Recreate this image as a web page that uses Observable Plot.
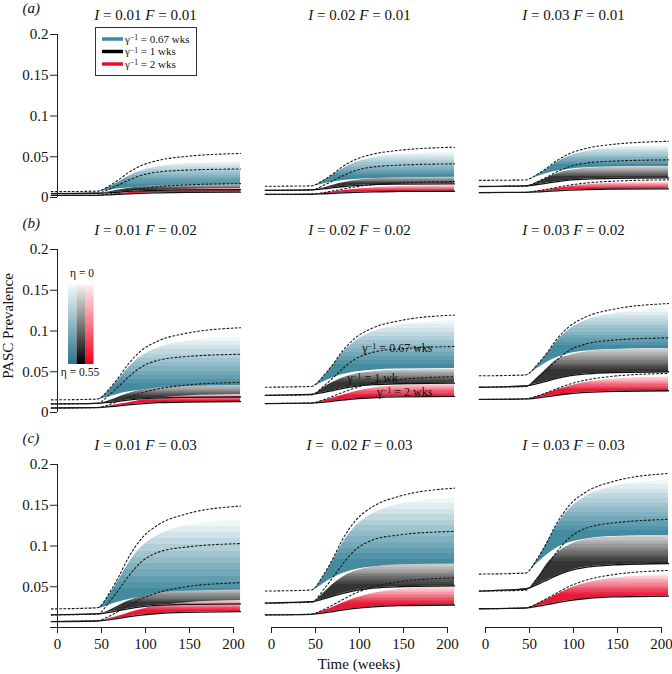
<!DOCTYPE html>
<html><head><meta charset="utf-8">
<script src="https://cdn.jsdelivr.net/npm/d3@7"></script>
<script src="https://cdn.jsdelivr.net/npm/@observablehq/plot@0.6"></script>
<style>
body{margin:0;background:#fff;}
#chart{width:672px;height:674px;}
svg{overflow:visible;}
</style></head><body><div id="chart"></div>
<script>
// ---------- data ----------
const time = [-7, 45, 60, 70, 80, 95, 115, 145, 208];
const panelTitles = ["I = 0.01 F = 0.01", "I = 0.02 F = 0.01", "I = 0.03 F = 0.01",
                     "I = 0.01 F = 0.02", "I = 0.02 F = 0.02", "I = 0.03 F = 0.02",
                     "I = 0.01 F = 0.03", "I =  0.02 F = 0.03", "I = 0.03 F = 0.03"];
const rowLetters = ["(a)", "(b)", "(c)"];
const xTicks = [0, 50, 100, 150, 200];
const yTicks = [0, 0.05, 0.1, 0.15, 0.2];
const yTickLabels = ["0", "0.05", "0.1", "0.15", "0.2"];
const legendLabels = ["γ⁻¹ = 0.67 wks", "γ⁻¹ = 1 wks", "γ⁻¹ = 2 wks"];
const annotLabels = ["γ⁻¹ = 0.67 wks", "γ⁻¹ = 1 wk", "γ⁻¹ = 2 wks"];
const etaLabels = ["η = 0", "η = 0.55"];

// one row per panel (a-left ... c-right), one value per time point
const blueDash = [
  [0.0072, 0.0077, 0.0152, 0.0222, 0.0301, 0.0390, 0.0456, 0.0503, 0.054],
  [0.0138, 0.0143, 0.0219, 0.0291, 0.0373, 0.0464, 0.0531, 0.0579, 0.0617],
  [0.021, 0.0215, 0.0292, 0.0364, 0.0445, 0.0536, 0.0604, 0.0652, 0.069],
  [0.0155, 0.0164, 0.0305, 0.0438, 0.0589, 0.0757, 0.0881, 0.0969, 0.104],
  [0.031, 0.0319, 0.0461, 0.0594, 0.0744, 0.0912, 0.1037, 0.1125, 0.1196],
  [0.045, 0.0459, 0.0601, 0.0734, 0.0885, 0.1053, 0.1177, 0.1266, 0.1337],
  [0.0228, 0.0241, 0.0443, 0.0632, 0.0846, 0.1086, 0.1263, 0.1389, 0.149],
  [0.0447, 0.0460, 0.0662, 0.0851, 0.1066, 0.1306, 0.1483, 0.1609, 0.171],
  [0.0655, 0.0667, 0.0865, 0.1050, 0.1260, 0.1495, 0.1668, 0.1791, 0.189]
];
const blueTop = [
  [0.0072, 0.0076, 0.0135, 0.0193, 0.0256, 0.0326, 0.0377, 0.0414, 0.044],
  [0.0138, 0.0142, 0.0209, 0.0276, 0.0347, 0.0426, 0.0485, 0.0527, 0.0556],
  [0.021, 0.0214, 0.0283, 0.0351, 0.0424, 0.0505, 0.0565, 0.0608, 0.0638],
  [0.0155, 0.0163, 0.0286, 0.0409, 0.0540, 0.0686, 0.0794, 0.0871, 0.0925],
  [0.031, 0.0318, 0.0449, 0.0580, 0.0719, 0.0874, 0.0988, 0.1070, 0.1127],
  [0.045, 0.0458, 0.0589, 0.0721, 0.0860, 0.1016, 0.1131, 0.1213, 0.127],
  [0.0228, 0.0239, 0.0414, 0.0588, 0.0774, 0.0981, 0.1134, 0.1244, 0.132],
  [0.0447, 0.0458, 0.0641, 0.0824, 0.1019, 0.1236, 0.1396, 0.1510, 0.159],
  [0.0655, 0.0667, 0.0851, 0.1036, 0.1233, 0.1452, 0.1614, 0.1729, 0.181]
];
const blueBot = [
  [0.0072, 0.0074, 0.0092, 0.0106, 0.0117, 0.0127, 0.0134, 0.0138, 0.014],
  [0.0138, 0.0141, 0.0169, 0.0189, 0.0205, 0.0221, 0.0231, 0.0237, 0.024],
  [0.021, 0.0215, 0.0261, 0.0295, 0.0322, 0.0348, 0.0365, 0.0375, 0.038],
  [0.0155, 0.0159, 0.0199, 0.0228, 0.0251, 0.0272, 0.0287, 0.0296, 0.030],
  [0.031, 0.0317, 0.0379, 0.0425, 0.0462, 0.0496, 0.0519, 0.0533, 0.054],
  [0.045, 0.0460, 0.0550, 0.0617, 0.0670, 0.0721, 0.0754, 0.0774, 0.0784],
  [0.0228, 0.0233, 0.0280, 0.0314, 0.0342, 0.0367, 0.0385, 0.0395, 0.040],
  [0.0447, 0.0457, 0.0544, 0.0609, 0.0660, 0.0709, 0.0741, 0.0760, 0.077],
  [0.0655, 0.0669, 0.0798, 0.0893, 0.0969, 0.1040, 0.1087, 0.1116, 0.113]
];
const blackDash = [
  [0.0048, 0.0051, 0.0108, 0.0157, 0.0208, 0.0271, 0.0314, 0.0335, 0.035],
  [0.0088, 0.0091, 0.0153, 0.0205, 0.0260, 0.0329, 0.0374, 0.0397, 0.0413],
  [0.0135, 0.0138, 0.0200, 0.0253, 0.0308, 0.0377, 0.0423, 0.0446, 0.0462],
  [0.0105, 0.0111, 0.0227, 0.0325, 0.0428, 0.0556, 0.0642, 0.0685, 0.0715],
  [0.021, 0.0216, 0.0330, 0.0426, 0.0528, 0.0654, 0.0738, 0.0780, 0.081],
  [0.031, 0.0316, 0.0431, 0.0529, 0.0632, 0.0759, 0.0844, 0.0887, 0.0917],
  [0.0155, 0.0164, 0.0330, 0.0470, 0.0619, 0.0803, 0.0925, 0.0986, 0.103],
  [0.030, 0.0309, 0.0476, 0.0617, 0.0766, 0.0951, 0.1074, 0.1136, 0.118],
  [0.0447, 0.0456, 0.0623, 0.0763, 0.0913, 0.1097, 0.1221, 0.1282, 0.1326]
];
const blackTop = [
  [0.0048, 0.0049, 0.0070, 0.0091, 0.0110, 0.0131, 0.0147, 0.0154, 0.016],
  [0.0088, 0.0090, 0.0120, 0.0150, 0.0177, 0.0208, 0.0231, 0.0242, 0.025],
  [0.0135, 0.0137, 0.0190, 0.0240, 0.0285, 0.0330, 0.0360, 0.0372, 0.038],
  [0.0105, 0.0107, 0.0150, 0.0191, 0.0229, 0.0272, 0.0303, 0.0319, 0.033],
  [0.021, 0.0213, 0.0310, 0.0370, 0.0420, 0.0470, 0.0500, 0.0520, 0.053],
  [0.031, 0.0315, 0.0440, 0.0540, 0.0640, 0.0700, 0.0745, 0.0770, 0.0784],
  [0.0155, 0.0158, 0.0216, 0.0271, 0.0323, 0.0381, 0.0423, 0.0445, 0.046],
  [0.030, 0.0305, 0.0430, 0.0530, 0.0610, 0.0690, 0.0740, 0.0770, 0.078],
  [0.0447, 0.0454, 0.0620, 0.0780, 0.0900, 0.1010, 0.1080, 0.1110, 0.113]
];
const blackBot = [
  [0.0048, 0.0052, 0.0060, 0.0067, 0.0074, 0.0082, 0.0089, 0.0093, 0.0095],
  [0.0088, 0.0094, 0.0108, 0.0120, 0.0132, 0.0146, 0.0158, 0.0164, 0.0168],
  [0.0135, 0.0143, 0.0161, 0.0177, 0.0193, 0.0212, 0.0226, 0.0235, 0.024],
  [0.0105, 0.0112, 0.0126, 0.0139, 0.0152, 0.0167, 0.0179, 0.0186, 0.019],
  [0.021, 0.0222, 0.0248, 0.0270, 0.0293, 0.0320, 0.0341, 0.0353, 0.036],
  [0.031, 0.0325, 0.0358, 0.0386, 0.0415, 0.0449, 0.0475, 0.0491, 0.050],
  [0.0155, 0.0166, 0.0189, 0.0209, 0.0229, 0.0254, 0.0272, 0.0283, 0.029],
  [0.030, 0.0317, 0.0353, 0.0384, 0.0416, 0.0453, 0.0483, 0.0500, 0.051],
  [0.0447, 0.0474, 0.0532, 0.0582, 0.0633, 0.0694, 0.0741, 0.0768, 0.0785]
];
const redDash = [
  [0.0025, 0.0028, 0.0047, 0.0064, 0.0083, 0.0109, 0.0134, 0.0154, 0.017],
  [0.0038, 0.0041, 0.0062, 0.0081, 0.0101, 0.0130, 0.0157, 0.0179, 0.0196],
  [0.006, 0.0063, 0.0084, 0.0102, 0.0123, 0.0151, 0.0178, 0.0200, 0.0217],
  [0.0055, 0.0061, 0.0102, 0.0140, 0.0181, 0.0238, 0.0291, 0.0335, 0.037],
  [0.011, 0.0117, 0.0160, 0.0199, 0.0242, 0.0301, 0.0358, 0.0404, 0.044],
  [0.016, 0.0166, 0.0208, 0.0246, 0.0288, 0.0346, 0.0400, 0.0445, 0.048],
  [0.0073, 0.0083, 0.0145, 0.0202, 0.0264, 0.0350, 0.0431, 0.0498, 0.055],
  [0.0155, 0.0164, 0.0223, 0.0278, 0.0337, 0.0419, 0.0496, 0.0560, 0.061],
  [0.023, 0.0239, 0.0301, 0.0357, 0.0418, 0.0503, 0.0583, 0.0648, 0.070]
];
const redTop = [
  [0.0025, 0.0027, 0.0038, 0.0048, 0.0059, 0.0074, 0.0089, 0.0101, 0.011],
  [0.0038, 0.0040, 0.0054, 0.0067, 0.0082, 0.0101, 0.0120, 0.0135, 0.0147],
  [0.006, 0.0063, 0.0079, 0.0095, 0.0111, 0.0134, 0.0156, 0.0174, 0.0188],
  [0.0055, 0.0058, 0.0080, 0.0100, 0.0121, 0.0151, 0.0179, 0.0202, 0.022],
  [0.011, 0.0115, 0.0148, 0.0178, 0.0210, 0.0255, 0.0298, 0.0333, 0.036],
  [0.016, 0.0166, 0.0202, 0.0236, 0.0272, 0.0322, 0.0370, 0.0409, 0.044],
  [0.0073, 0.0078, 0.0112, 0.0142, 0.0176, 0.0222, 0.0266, 0.0302, 0.033],
  [0.0155, 0.0162, 0.0208, 0.0250, 0.0295, 0.0358, 0.0418, 0.0467, 0.0505],
  [0.023, 0.0238, 0.0293, 0.0343, 0.0398, 0.0474, 0.0545, 0.0604, 0.065]
];
const redBot = [
  [0.0025, 0.0027, 0.0033, 0.0038, 0.0044, 0.0051, 0.0057, 0.0062, 0.0065],
  [0.0038, 0.0040, 0.0046, 0.0051, 0.0056, 0.0063, 0.0070, 0.0074, 0.0077],
  [0.006, 0.0063, 0.0069, 0.0076, 0.0082, 0.0091, 0.0098, 0.0104, 0.0107],
  [0.0055, 0.0060, 0.0071, 0.0081, 0.0093, 0.0107, 0.0120, 0.0129, 0.0135],
  [0.011, 0.0115, 0.0128, 0.0139, 0.0151, 0.0167, 0.0181, 0.0192, 0.0198],
  [0.016, 0.0166, 0.0181, 0.0195, 0.0210, 0.0230, 0.0247, 0.0260, 0.0267],
  [0.0073, 0.0080, 0.0097, 0.0113, 0.0130, 0.0152, 0.0172, 0.0186, 0.0195],
  [0.0155, 0.0162, 0.0179, 0.0195, 0.0212, 0.0234, 0.0253, 0.0268, 0.0276],
  [0.023, 0.0239, 0.0261, 0.0281, 0.0303, 0.0331, 0.0356, 0.0375, 0.0386]
];

// ---------- build table ----------
const table = [];
for (let p = 0; p < 9; p++) {
  time.forEach((t, i) => table.push({
    p, col: p % 3, row: Math.floor(p / 3), t,
    d1: blueDash[p][i], bt: blueTop[p][i], bb: blueBot[p][i],
    d2: blackDash[p][i], kt: blackTop[p][i], kb: blackBot[p][i],
    d3: redDash[p][i], rt: redTop[p][i], rb: redBot[p][i]
  }));
}
const titleRows = panelTitles.map((s, p) => ({col: p % 3, row: Math.floor(p / 3), title: s}));
const letterRows = rowLetters.map((s, r) => ({col: 0, row: r, letter: s}));
const yAxisRows = [0, 1, 2].map(r => ({col: 0, row: r}));
const xAxisRows = [0, 1, 2].map(c => ({col: c, row: 2}));
const zeroRows = [0, 1].map(r => ({col: 0, row: r, label: yTickLabels[0]}));
const annotRows = [
  {col: 1, row: 1, t: 103, v: 0.0795, label: annotLabels[0]},
  {col: 1, row: 1, t: 86, v: 0.0425, label: annotLabels[1]},
  {col: 1, row: 1, t: 120, v: 0.0245, label: annotLabels[2]}
];
const yLabelMap = new Map(yTicks.map((v, i) => [v, yTickLabels[i]]));

const FONT = "'Liberation Serif', 'Times New Roman', serif";
const areaMarks = [];
for (let p = 0; p < 9; p++) {
  const rows = table.filter(d => d.p === p);
  const common = {x1: "t", fx: "col", fy: "row", curve: "monotone-x"};
  areaMarks.push(Plot.area(rows, {...common, y1: "bb", y2: "bt", fill: `url(#gb${p})`}));
  areaMarks.push(Plot.area(rows, {...common, y1: "kb", y2: "kt", fill: `url(#gk${p})`, fillOpacity: 0.9}));
  areaMarks.push(Plot.area(rows, {...common, y1: "rb", y2: "rt", fill: `url(#gr${p})`, fillOpacity: 0.9}));
}
const lineBase = {x: "t", z: "p", fx: "col", fy: "row", curve: "monotone-x"};
const dash = {stroke: "#1a1a1a", strokeWidth: 1.1, strokeDasharray: "1.8,2.4"};

const svg = Plot.plot({
  width: 672, height: 674,
  marginLeft: 57, marginRight: 11, marginTop: 34, marginBottom: 47,
  style: {fontFamily: FONT, fontSize: "15px", background: "white", color: "#111"},
  fx: {domain: [0, 1, 2], paddingInner: 0.1776, paddingOuter: 0, axis: null, label: null},
  fy: {domain: [0, 1, 2], paddingInner: 0.2419, paddingOuter: 0, axis: null, label: null},
  x: {domain: [0, 200]},
  y: {domain: [0, 0.2]},
  marks: [
    ...areaMarks,
    Plot.line(table, {...lineBase, y: "kb", stroke: "#111", strokeWidth: 1.3}),
    Plot.line(table, {...lineBase, y: "rb", stroke: "#111", strokeWidth: 1.3}),
    Plot.line(table, {...lineBase, y: "d1", ...dash}),
    Plot.line(table, {...lineBase, y: "d2", ...dash}),
    Plot.line(table, {...lineBase, y: "d3", ...dash}),
    Plot.ruleX(yAxisRows, {x: 0, y1: 0, y2: 0.2, fx: "col", fy: "row", stroke: "#222"}),
    Plot.ruleY(xAxisRows, {y: 0, x1: 0, x2: 200, fx: "col", fy: "row", stroke: "#222"}),
    Plot.axisY(yTicks, {anchor: "left", tickSize: 7, tickPadding: 2, label: null,
      tickFormat: d => d === 0 ? "" : yLabelMap.get(d), stroke: "#222"}),
    Plot.text(zeroRows, {fx: "col", fy: "row", x: 0, y: 0, text: "label", dx: -9, textAnchor: "end"}),
    Plot.axisX(xTicks, {anchor: "bottom", tickSize: 6, tickPadding: 5, label: null,
      tickFormat: d => String(d), stroke: "#222"}),
    Plot.text(titleRows, {fx: "col", fy: "row", text: "title", frameAnchor: "top", dy: -25,
      ariaLabel: () => "ptitle"}),
    Plot.text(letterRows, {fx: "col", fy: "row", text: "letter", frameAnchor: "top-left", dx: -35, dy: -32,
      fontStyle: "italic"}),
    Plot.text(annotRows, {fx: "col", fy: "row", x: "t", y: "v", text: "label", textAnchor: "start", fontSize: 12,
      ariaLabel: () => "gamma"})
  ]
});
document.getElementById("chart").appendChild(svg);

// italic I and F in panel titles
d3.select(svg).selectAll('text[aria-label="ptitle"]').each(function () {
  const s = this.textContent;
  this.innerHTML = s.replace(/\b([IF])\b/g, '<tspan font-style="italic">$1</tspan>');
});
// gamma^-1 as a real superscript
function gammaSup(el, s) {
  const [a, b] = s.split("⁻¹");
  el.textContent = "";
  const t = d3.select(el);
  t.append("tspan").text(a);
  t.append("tspan").attr("dy", "-0.36em").attr("font-size", "0.7em").text("−1");
  t.append("tspan").attr("dy", "0.252em").text(b);
}
d3.select(svg).selectAll('text[aria-label="gamma"]').each(function () { gammaSup(this, this.textContent); });

// ---------- band gradients (stepped, 12 levels of eta) ----------
const ys = svg.scale("y");
const sel = d3.select(svg);
const defs = sel.insert("defs", ":first-child");
function stepGrad(id, topV, botV, c0, c1) {
  const g = defs.append("linearGradient").attr("id", id).attr("gradientUnits", "userSpaceOnUse")
    .attr("x1", 0).attr("x2", 0).attr("y1", ys.apply(topV)).attr("y2", ys.apply(botV));
  const n = 12, ip = d3.interpolateRgb(c0, c1);
  for (let i = 0; i < n; i++) {
    const c = ip(i / (n - 1));
    g.append("stop").attr("offset", i / n).attr("stop-color", c);
    g.append("stop").attr("offset", (i + 1) / n).attr("stop-color", c);
  }
}
const last = time.length - 1;
for (let p = 0; p < 9; p++) {
  stepGrad(`gb${p}`, blueTop[p][last], blueBot[p][last], "#eef6f8", "#448ba0");
  stepGrad(`gk${p}`, blackTop[p][last], blackBot[p][last], "#cdcdcd", "#1f1f1f");
  stepGrad(`gr${p}`, redTop[p][last], redBot[p][last], "#ffdfe4", "#e60022");
}
function smoothGrad(id, c0, c1) {
  const g = defs.append("linearGradient").attr("id", id).attr("x1", 0).attr("x2", 0).attr("y1", 0).attr("y2", 1);
  g.append("stop").attr("offset", 0).attr("stop-color", c0);
  g.append("stop").attr("offset", 1).attr("stop-color", c1);
}
smoothGrad("legB", "#f2f8fa", "#27768d");
smoothGrad("legK", "#f2f2f2", "#000000");
smoothGrad("legR", "#ffeef1", "#f0001e");

// ---------- legend in panel (a) ----------
const leg = sel.append("g").attr("font-family", FONT).attr("text-anchor", "start");
leg.append("rect").attr("x", 95.5).attr("y", 27.5).attr("width", 101).attr("height", 48)
  .attr("fill", "white").attr("stroke", "#333").attr("stroke-width", 1);
const legColors = ["#3a8aa8", "#000000", "#e8102a"];
legendLabels.forEach((s, i) => {
  const y = 39 + i * 12.5;
  leg.append("line").attr("x1", 102).attr("x2", 123).attr("y1", y).attr("y2", y)
    .attr("stroke", legColors[i]).attr("stroke-width", 3.5);
  const t = leg.append("text").attr("x", 125).attr("y", y + 3.8).attr("font-size", 11)
    .attr("text-anchor", "start").attr("fill", "#111");
  gammaSup(t.node(), s);
});

// ---------- eta legend in panel (b) ----------
const eg = sel.append("g").attr("font-family", FONT);
["legB", "legK", "legR"].forEach((id, i) => {
  eg.append("rect").attr("x", 68 + i * 8.5).attr("y", 285).attr("width", 8.5).attr("height", 79)
    .attr("fill", `url(#${id})`);
});
eg.append("text").attr("x", 82).attr("y", 276.5).attr("text-anchor", "middle").attr("font-size", 11.5)
  .attr("fill", "#111").text(etaLabels[0]);
eg.append("text").attr("x", 80).attr("y", 375.5).attr("text-anchor", "middle").attr("font-size", 11.5)
  .attr("fill", "#111").text(etaLabels[1]);

// ---------- axis titles ----------
sel.append("text").attr("transform", "translate(13,326) rotate(-90)").attr("text-anchor", "middle")
  .attr("font-family", FONT).attr("font-size", 15).attr("fill", "#111").text("PASC Prevalence");
sel.append("text").attr("x", 359).attr("y", 669).attr("text-anchor", "middle")
  .attr("font-family", FONT).attr("font-size", 15).attr("fill", "#111").text("Time (weeks)");
</script>
</body></html>
